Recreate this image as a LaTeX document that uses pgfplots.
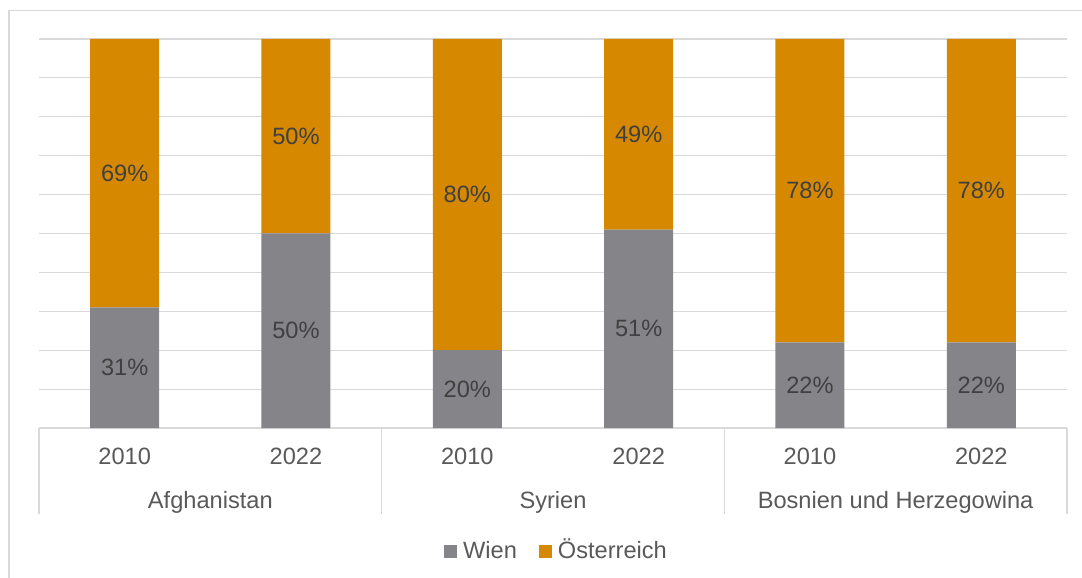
\documentclass[border=0pt]{standalone}
\usepackage{pgfplots}
\pgfplotsset{compat=1.18}
\usepackage{pgfplotstable}
\usepackage{fontspec}
\setmainfont{Liberation Sans}
\definecolor{wien}{HTML}{858489}
\definecolor{oest}{HTML}{D58800}
\definecolor{gridc}{HTML}{D9D9D9}
\definecolor{txt}{HTML}{595959}
\definecolor{lbl}{HTML}{404040}
\newcommand{\chartfont}{\fontsize{23.7}{28}\selectfont}

\pgfplotstableread{
x W O
0 31 69
1 50 50
2 20 80
3 51 49
4 22 78
5 22 78
}\datatable

\begin{document}
\begin{tikzpicture}
\path[use as bounding box] (0,0) rectangle (1082bp,578bp);
\draw[gridc, line width=1.6bp] (9bp,0) -- (9bp,567.5bp) -- (1082bp,567.5bp);
\begin{axis}[
  at={(39bp,150bp)}, anchor=south west,
  width=1028bp, height=389bp, scale only axis,
  ybar stacked, bar width=69bp,
  xmin=-0.5, xmax=5.5, ymin=0, ymax=100,
  ytick={0,10,...,100}, yticklabels={},
  ymajorgrids, major grid style={gridc, line width=1.1bp},
  axis line style={draw=none},
  major tick length=0pt,
  xtick={0,...,5},
  xticklabels={2010,2022,2010,2022,2010,2022},
  xticklabel style={anchor=base, yshift=-36bp, text=txt, font=\chartfont},
  clip=false,
  legend style={at={(0.5034,-0.311)}, anchor=center, draw=none, fill=none,
    legend columns=2, font=\chartfont, text=txt,
    /tikz/every even column/.append style={column sep=20bp},
    /tikz/every odd column/.append style={column sep=4bp},
    nodes={inner sep=2bp, anchor=base west}},
  legend image code/.code={\fill[#1] (0bp,0bp) rectangle (13bp,13bp);},
]
\addplot[fill=wien, draw=none] table[x=x, y=W] {\datatable};
\addplot[fill=oest, draw=none] table[x=x, y=O] {\datatable};
\legend{Wien, Österreich}
\pgfplotsinvokeforeach{-0.5,1.5,3.5,5.5}{
  \draw[gridc, line width=1.4bp] (axis cs:#1,0) -- ++(0bp,-86bp);
}
\node[anchor=base, text=txt, font=\chartfont] at ([yshift=-80bp]axis cs:0.5,0) {Afghanistan};
\node[anchor=base, text=txt, font=\chartfont] at ([yshift=-80bp]axis cs:2.5,0) {Syrien};
\node[anchor=base, text=txt, font=\chartfont] at ([yshift=-80bp]axis cs:4.5,0) {Bosnien und Herzegowina};
\end{axis}
\begin{axis}[
  at={(39bp,150bp)}, anchor=south west,
  width=1028bp, height=389bp, scale only axis,
  xmin=-0.5, xmax=5.5, ymin=0, ymax=100,
  hide axis, clip=false,
  every node near coord/.style={anchor=center, text=lbl, font=\chartfont},
]
\addplot[draw=none, mark=none, point meta=\thisrow{W},
  nodes near coords={\pgfmathprintnumber[assume math mode=true]{\pgfplotspointmeta}\%}]
  table[x=x, y expr=\thisrow{W}/2] {\datatable};
\addplot[draw=none, mark=none, point meta=\thisrow{O},
  nodes near coords={\pgfmathprintnumber[assume math mode=true]{\pgfplotspointmeta}\%}]
  table[x=x, y expr=\thisrow{W}+\thisrow{O}/2] {\datatable};
\end{axis}
\end{tikzpicture}
\end{document}
